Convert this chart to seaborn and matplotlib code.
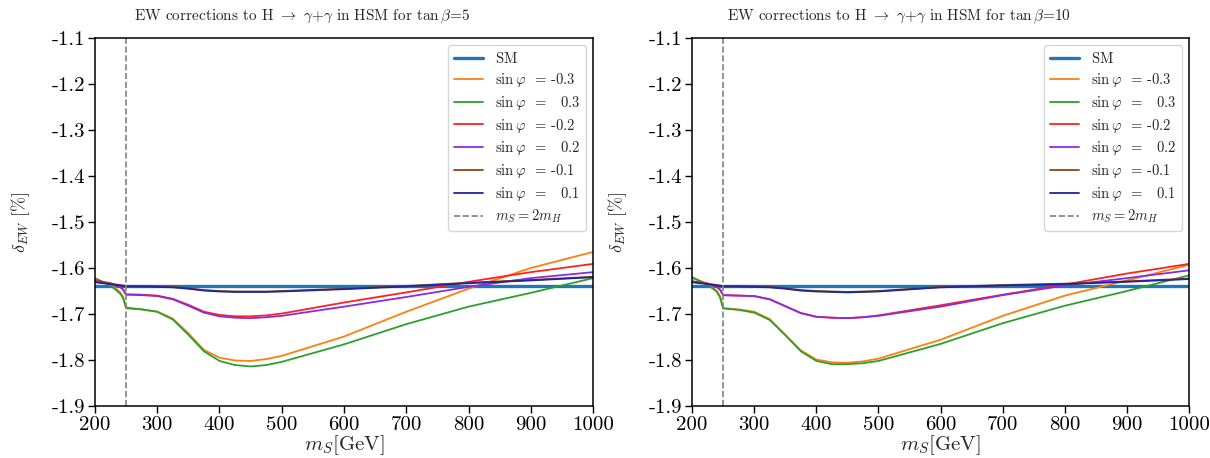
import matplotlib
matplotlib.use("Agg")
import matplotlib.pyplot as plt
import seaborn as sns

# masses m_S in GeV
m_s = [200, 225, 240, 245, 250, 275, 300, 325, 350, 375, 400, 425, 450, 475, 500, 600, 700, 800, 900, 1000]
sm_value = -1.64
threshold = 250  # m_S = 2 m_H

sin_phi = ["-0.3", "0.3", "-0.2", "0.2", "-0.1", "0.1"]

# tan beta = 5
tb5_m03 = [-1.625, -1.635, -1.652, -1.662, -1.688, -1.690, -1.695, -1.710, -1.742, -1.778, -1.795, -1.801, -1.802, -1.798, -1.791, -1.749, -1.695, -1.645, -1.600, -1.565]
tb5_p03 = [-1.622, -1.638, -1.655, -1.665, -1.686, -1.690, -1.695, -1.712, -1.745, -1.781, -1.802, -1.811, -1.814, -1.811, -1.804, -1.766, -1.722, -1.684, -1.654, -1.622]
tb5_m02 = [-1.627, -1.633, -1.640, -1.646, -1.657, -1.658, -1.660, -1.667, -1.680, -1.695, -1.702, -1.705, -1.705, -1.703, -1.699, -1.675, -1.653, -1.630, -1.609, -1.591]
tb5_p02 = [-1.629, -1.634, -1.641, -1.647, -1.658, -1.659, -1.661, -1.668, -1.682, -1.697, -1.705, -1.708, -1.709, -1.707, -1.704, -1.684, -1.663, -1.641, -1.622, -1.609]
tb5_m01 = [-1.630, -1.634, -1.637, -1.638, -1.639, -1.640, -1.640, -1.641, -1.644, -1.648, -1.650, -1.651, -1.651, -1.651, -1.650, -1.645, -1.639, -1.632, -1.626, -1.619]
tb5_p01 = [-1.631, -1.635, -1.638, -1.639, -1.640, -1.640, -1.641, -1.642, -1.645, -1.649, -1.651, -1.652, -1.652, -1.652, -1.651, -1.646, -1.640, -1.633, -1.627, -1.620]

# tan beta = 10
tb10_m03 = [-1.622, -1.634, -1.650, -1.662, -1.687, -1.690, -1.695, -1.711, -1.745, -1.779, -1.799, -1.805, -1.806, -1.803, -1.797, -1.756, -1.704, -1.660, -1.627, -1.593]
tb10_p03 = [-1.620, -1.636, -1.652, -1.664, -1.688, -1.691, -1.697, -1.713, -1.746, -1.781, -1.802, -1.809, -1.809, -1.807, -1.802, -1.765, -1.720, -1.682, -1.650, -1.616]
tb10_m02 = [-1.629, -1.634, -1.641, -1.647, -1.659, -1.660, -1.661, -1.668, -1.683, -1.698, -1.706, -1.708, -1.709, -1.707, -1.703, -1.681, -1.658, -1.636, -1.612, -1.591]
tb10_p02 = [-1.629, -1.634, -1.641, -1.647, -1.659, -1.660, -1.661, -1.668, -1.683, -1.698, -1.706, -1.708, -1.709, -1.707, -1.704, -1.684, -1.659, -1.638, -1.622, -1.605]
tb10_m01 = [-1.630, -1.634, -1.637, -1.638, -1.639, -1.640, -1.640, -1.641, -1.644, -1.648, -1.650, -1.651, -1.652, -1.651, -1.650, -1.641, -1.637, -1.634, -1.629, -1.623]
tb10_p01 = [-1.631, -1.635, -1.638, -1.639, -1.640, -1.640, -1.641, -1.642, -1.645, -1.649, -1.651, -1.652, -1.653, -1.652, -1.651, -1.642, -1.638, -1.635, -1.630, -1.624]

x_ticks = [200, 300, 400, 500, 600, 700, 800, 900, 1000]
y_ticks = [-1.9, -1.8, -1.7, -1.6, -1.5, -1.4, -1.3, -1.2, -1.1]

colors = ["#ff7f0e", "#2ca02c", "#ff2020", "#8a2be2", "#8b4513", "#23239b"]

sns.set_style("ticks")
plt.rcParams["font.family"] = ["cmr10", "DejaVu Sans"]
plt.rcParams["mathtext.fontset"] = "cm"
plt.rcParams["axes.unicode_minus"] = False
plt.rcParams["axes.formatter.use_mathtext"] = False

fig = plt.figure(figsize=(12.1, 4.58), dpi=100)
ax1 = fig.add_axes([0.0785, 0.1135, 0.4116, 0.8035])
ax2 = fig.add_axes([0.572, 0.1135, 0.4107, 0.8035])

panels = [
    (ax1, "5", [tb5_m03, tb5_p03, tb5_m02, tb5_p02, tb5_m01, tb5_p01]),
    (ax2, "10", [tb10_m03, tb10_p03, tb10_m02, tb10_p02, tb10_m01, tb10_p01]),
]

for ax, tb, curves in panels:
    sns.lineplot(x=[m_s[0], m_s[-1]], y=[sm_value, sm_value], color="#1f77b4",
                 lw=2.4, label=r"$\mathrm{SM}$", ax=ax)
    for s, vals, c in zip(sin_phi, curves, colors):
        lab = r"$\sin\varphi$" + "  = " + ("  " + s if not s.startswith("-") else s)
        sns.lineplot(x=m_s, y=vals, color=c, lw=1.3, label=lab, ax=ax)
    ax.axvline(threshold, color="gray", ls="--", lw=1.2, label=r"$m_S=2m_H$")

    ax.set_xlim(200, 1000)
    ax.set_ylim(-1.9, -1.1)
    ax.set_xticks(x_ticks)
    ax.set_xticklabels([str(t) for t in x_ticks])
    ax.set_yticks(y_ticks)
    ax.set_yticklabels([f"{t:.1f}" for t in y_ticks])
    ax.tick_params(labelsize=15, direction="out", length=5, width=1, colors="black", pad=2)
    for sp in ax.spines.values():
        sp.set_visible(True)
        sp.set_color("black")
        sp.set_linewidth(1.1)
    ax.set_xlabel(r"$m_S$[GeV]", fontsize=15, labelpad=0)
    ax.set_ylabel(r"$\delta_{EW}$ [%]", fontsize=13, labelpad=14)
    ax.set_title(r"EW corrections to H $\rightarrow$ $\gamma$+$\gamma$ in HSM for $\tan\beta$=" + tb,
                 fontsize=11, pad=13)
    ax.title.set_x(0.416)
    ax.legend(loc="upper right", fontsize=10.5, frameon=True, fancybox=True,
              edgecolor="0.8", framealpha=0.8, handlelength=2.0, labelspacing=0.33,
              handletextpad=0.8, borderpad=0.4)

fig.savefig("out.png", dpi=100)
